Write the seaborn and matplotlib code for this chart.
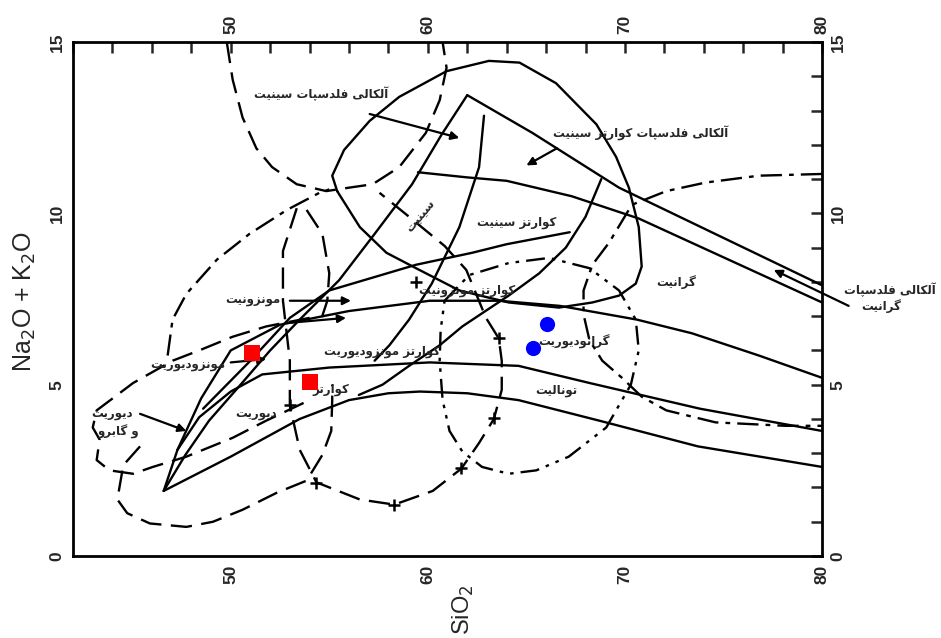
import matplotlib
matplotlib.use("Agg")
import matplotlib.pyplot as plt
import seaborn as sns
from matplotlib.ticker import MultipleLocator, FixedLocator

sns.set_style("white")
plt.rcParams['font.family'] = ['DejaVu Sans']

# Persian letters -> presentation forms (isolated, final, initial, medial)
FORMS = {
    'ا': ('\uFE8D', '\uFE8E'), 'آ': ('\uFE81', '\uFE82'),
    'د': ('\uFEA9', '\uFEAA'), 'ر': ('\uFEAD', '\uFEAE'),
    'ز': ('\uFEAF', '\uFEB0'), 'و': ('\uFEED', '\uFEEE'),
    'ب': ('\uFE8F', '\uFE90', '\uFE91', '\uFE92'),
    'پ': ('\uFB56', '\uFB57', '\uFB58', '\uFB59'),
    'ت': ('\uFE95', '\uFE96', '\uFE97', '\uFE98'),
    'س': ('\uFEB1', '\uFEB2', '\uFEB3', '\uFEB4'),
    'ف': ('\uFED1', '\uFED2', '\uFED3', '\uFED4'),
    '\u06A9': ('\uFB8E', '\uFB8F', '\uFB90', '\uFB91'),
    'گ': ('\uFB92', '\uFB93', '\uFB94', '\uFB95'),
    'ل': ('\uFEDD', '\uFEDE', '\uFEDF', '\uFEE0'),
    'م': ('\uFEE1', '\uFEE2', '\uFEE3', '\uFEE4'),
    'ن': ('\uFEE5', '\uFEE6', '\uFEE7', '\uFEE8'),
    '\u06CC': ('\uFBFC', '\uFBFD', '\uFBFE', '\uFBFF'),
}


def fa(text):
    # simple shaping + right-to-left ordering so matplotlib shows joined Persian
    chars = list(text.replace('\u064A', '\u06CC').replace('\u0643', '\u06A9'))
    out = []
    for i, c in enumerate(chars):
        if c not in FORMS:
            out.append(c)
            continue
        prev = chars[i - 1] if i > 0 else None
        nxt = chars[i + 1] if i + 1 < len(chars) else None
        join_prev = prev in FORMS and len(FORMS[prev]) == 4
        join_next = len(FORMS[c]) == 4 and nxt in FORMS
        f = FORMS[c]
        if join_prev and join_next:
            out.append(f[3])
        elif join_prev:
            out.append(f[1])
        elif join_next:
            out.append(f[2])
        else:
            out.append(f[0])
    return ''.join(reversed(out))


# ---- solid field boundaries (SiO2 wt%, Na2O+K2O wt%) ----
lower_x = [46.6, 50.0, 53.5, 56.0, 58.0, 59.6, 62.0, 64.6, 68.7, 73.7, 80.0]
lower_y = [1.9, 2.9, 4.0, 4.55, 4.75, 4.8, 4.75, 4.55, 3.95, 3.2, 2.6]

middle_x = [46.6, 47.3, 48.4, 50.0, 51.6, 55.0, 60.1, 64.6, 68.2, 73.8, 80.0]
middle_y = [1.9, 3.1, 4.05, 4.8, 5.3, 5.5, 5.65, 5.55, 5.05, 4.3, 3.65]

upper_x = [47.3, 48.5, 50.0, 52.5, 56.0, 60.1, 63.6, 66.7, 70.6, 73.4, 76.8, 80.0]
upper_y = [3.1, 4.6, 6.0, 6.75, 7.15, 7.45, 7.45, 7.3, 6.9, 6.5, 5.85, 5.2]

monz_x = [48.6, 51.0, 53.0, 55.0, 59.4, 62.25, 64.0, 67.2]
monz_y = [4.3, 5.7, 6.95, 7.75, 8.5, 8.85, 9.1, 9.45]

diag_x = [46.6, 47.7, 48.9, 50.5, 52.0, 53.5, 55.5, 57.3, 59.2, 60.7, 62.0]
diag_y = [1.9, 2.95, 3.95, 5.0, 6.0, 6.9, 8.05, 9.4, 10.85, 12.3, 13.45]

inner_x = [62.85, 62.6, 61.6, 60.2, 59.05, 58.05, 57.3]
inner_y = [12.85, 11.35, 9.6, 7.95, 6.9, 6.15, 5.7]

peak_x = [62.0, 65.3, 69.7, 80.0]
peak_y = [13.45, 12.35, 10.75, 7.9]

qsy_x = [59.5, 62.0, 64.0, 67.3, 70.7, 80.0]
qsy_y = [11.2, 11.05, 10.95, 10.5, 9.85, 7.4]

curve_x = [68.8, 68.0, 67.0, 65.65, 64.1, 61.75, 60.6, 59.05, 57.7, 56.5]
curve_y = [11.0, 9.9, 9.0, 8.25, 7.6, 6.7, 6.15, 5.55, 5.0, 4.7]

loop_x = [55.4, 55.15, 55.75, 57.05, 58.55, 60.95, 63.1, 64.65, 66.5, 68.55, 69.55, 70.2,
          70.7, 70.85, 70.55, 69.7, 68.35, 66.65, 64.1, 61.6, 59.4, 57.9, 56.55, 55.4]
loop_y = [10.65, 11.1, 11.85, 12.7, 13.4, 14.15, 14.45, 14.4, 13.8, 12.6, 11.65, 10.75,
          9.6, 8.45, 7.95, 7.6, 7.4, 7.25, 7.4, 7.75, 8.4, 8.85, 9.6, 10.65]

# ---- dashed / dash-dot fields ----
afs_x = [49.8, 50.1, 50.6, 51.3, 52.1, 53.35, 54.85, 56.0, 57.2, 58.55, 59.9, 60.6, 60.95, 60.75]
afs_y = [15.0, 13.9, 12.8, 11.9, 11.35, 10.85, 10.65, 10.75, 10.85, 11.35, 12.35, 13.3, 14.25, 15.0]

mzd_x = [46.8, 47.05, 47.75, 49.3, 50.95, 52.85, 54.5, 55.0]
mzd_y = [5.85, 6.9, 7.65, 8.65, 9.4, 10.1, 10.6, 10.7]

gab_x = [54.0, 51.8, 50.1, 48.4, 47.05, 45.05, 43.2, 43.0, 43.35, 43.2, 43.85, 45.05, 46.05,
         47.75, 50.1, 51.8, 54.0]
gab_y = [6.95, 6.7, 6.4, 6.0, 5.7, 5.05, 4.25, 3.75, 3.4, 2.8, 2.5, 2.4, 2.6, 2.9, 3.45, 3.95, 4.55]

dio_x = [45.4, 44.55, 44.25, 44.75, 45.9, 47.75, 49.1, 50.6, 52.35, 53.85, 54.65, 55.1, 55.15, 55.15]
dio_y = [3.2, 2.65, 1.65, 1.25, 0.95, 0.85, 1.0, 1.35, 1.85, 2.2, 2.95, 3.65, 4.55, 5.0]

cross_x = [53.35, 52.65, 52.65, 53.0, 53.0, 53.5, 54.35, 56.55, 58.3, 60.25, 61.7, 62.6, 63.35,
           63.75, 63.75, 63.6, 62.95, 61.95, 60.85, 59.05, 57.55]
cross_y = [10.15, 8.9, 7.45, 5.7, 4.4, 3.1, 2.15, 1.65, 1.5, 1.9, 2.55, 3.3, 4.0, 4.85, 5.7,
           6.35, 6.95, 8.35, 9.05, 9.9, 10.6]
plus_x = [52.99, 54.35, 58.3, 61.7, 63.37, 63.62, 59.42]
plus_y = [4.4, 2.13, 1.49, 2.57, 4.02, 6.36, 7.99]

arc_x = [53.85, 54.65, 55.0, 54.9, 54.5]
arc_y = [10.1, 9.4, 8.25, 7.45, 6.75]

gd_x = [60.85, 62.1, 64.1, 66.15, 68.2, 69.7, 70.55, 70.7, 70.3, 69.05, 67.15, 65.5, 64.1,
        62.75, 61.75, 61.1, 60.75, 60.6, 60.65, 60.85]
gd_y = [7.45, 8.2, 8.55, 8.7, 8.4, 7.75, 6.9, 6.0, 5.0, 3.75, 2.9, 2.5, 2.4, 2.6, 3.05, 3.65,
        4.55, 5.7, 6.6, 7.45]

gr_x = [80.0, 76.8, 74.1, 72.1, 70.35, 69.2, 68.35, 67.9, 67.9, 68.2, 68.85, 69.85, 70.85,
        72.1, 74.6, 78.15, 80.0]
gr_y = [11.15, 11.1, 10.9, 10.65, 10.25, 9.15, 8.5, 7.75, 7.05, 6.3, 5.7, 5.2, 4.65, 4.25,
        3.9, 3.8, 3.8]

# ---- arrows from labels ----
arrow_x0 = [57.05, 66.55, 53.0, 52.85, 50.0, 45.4, 81.35]
arrow_y0 = [12.9, 11.9, 7.45, 6.8, 5.65, 4.15, 7.3]
arrow_x1 = [61.6, 65.0, 56.1, 55.85, 51.8, 47.75, 77.55]
arrow_y1 = [12.2, 11.4, 7.45, 6.95, 5.75, 3.65, 8.35]

# ---- field names ----
label_text = ['آلکالی فلدسپات سینیت', 'آلکالی فلدسپات کوارتز سینیت', 'کوارتز سینیت', 'گرانیت',
              'آلکالی فلدسپات', 'گرانیت', 'مونزونیت', 'کوارتز مونزونیت', 'مونزودیوریت',
              'کوارتز مونزودیوریت', 'گرانودیوریت', 'تونالیت', 'کوارتز', 'دیوریت',
              'دیوریت', 'و گابرو', 'سینیت']
label_x = [54.6, 70.8, 64.5, 72.6, 83.45, 83.0, 51.1, 62.0, 47.8, 57.7, 67.4, 66.5, 55.1, 51.3,
           44.0, 44.3, 59.6]
label_y = [13.5, 12.33, 9.74, 8.0, 7.76, 7.29, 7.46, 7.76, 5.57, 5.98, 6.24, 4.84, 4.85, 4.17,
           4.17, 3.62, 9.94]
label_rot = [0, 0, 0, 0, 0, 0, 0, 0, 0, 0, 0, 0, 0, 0, 0, 0, 50]

# ---- samples ----
red_x = [51.1, 54.0]
red_y = [5.92, 5.08]
blue_x = [66.07, 65.34]
blue_y = [6.76, 6.08]

fig = plt.figure(figsize=(9.41, 6.38), dpi=100)
ax = fig.add_axes([0.0776, 0.1285, 0.796, 0.8056])

solid = '-'
dash = (0, (9, 4))
dashdot = (0, (9, 3, 2, 3))
dashdotdot = (0, (8, 3, 1.5, 3, 1.5, 3))

curves = [
    (lower_x, lower_y, solid), (middle_x, middle_y, solid), (upper_x, upper_y, solid),
    (monz_x, monz_y, solid), (diag_x, diag_y, solid), (inner_x, inner_y, solid),
    (peak_x, peak_y, solid), (qsy_x, qsy_y, solid), (curve_x, curve_y, solid),
    (loop_x, loop_y, solid),
    (afs_x, afs_y, dash), (mzd_x, mzd_y, dashdot), (gab_x, gab_y, dash),
    (dio_x, dio_y, dash), (cross_x, cross_y, dash), (arc_x, arc_y, dash),
    (gd_x, gd_y, dashdotdot), (gr_x, gr_y, dashdot),
]
for xs, ys, ls in curves:
    sns.lineplot(x=xs, y=ys, sort=False, estimator=None, color='black', linewidth=1.7,
                 linestyle=ls, legend=False, ax=ax)

sns.scatterplot(x=plus_x, y=plus_y, marker='+', s=80, color='black', linewidth=1.8,
                legend=False, ax=ax, zorder=3)

for x0, y0, x1, y1 in zip(arrow_x0, arrow_y0, arrow_x1, arrow_y1):
    ax.annotate('', xy=(x1, y1), xytext=(x0, y0), annotation_clip=False,
                arrowprops=dict(arrowstyle='-|>', color='black', lw=1.6, mutation_scale=12,
                                shrinkA=0, shrinkB=0))

for t, x, y, r in zip(label_text, label_x, label_y, label_rot):
    ax.text(x, y, fa(t), ha='center', va='center', fontsize=8.5, fontweight='bold',
            rotation=r, family='DejaVu Sans', clip_on=False, zorder=4)

sns.scatterplot(x=red_x, y=red_y, marker='s', s=120, color='#ff0000', linewidth=0,
                legend=False, ax=ax, zorder=5)
sns.scatterplot(x=blue_x, y=blue_y, marker='o', s=120, color='#0000ff', linewidth=0,
                legend=False, ax=ax, zorder=5)

ax.set_xlim(42, 80)
ax.set_ylim(0, 15)
ax.xaxis.set_major_locator(FixedLocator([50, 60, 70, 80]))
ax.xaxis.set_minor_locator(MultipleLocator(2))
ax.yaxis.set_major_locator(FixedLocator([0, 5, 10, 15]))
ax.yaxis.set_minor_locator(MultipleLocator(1))
ax.tick_params(which='both', direction='in', length=8, width=1.8, top=True, right=True,
               labeltop=True, labelright=True)
ax.tick_params(axis='x', labelrotation=90, pad=6)
ax.tick_params(axis='y', labelrotation=90, pad=6)
for lab in ax.get_xticklabels() + ax.get_yticklabels():
    lab.set_fontweight('bold')
    lab.set_fontsize(12.5)
    lab.set_family('Liberation Sans')
for lab in ax.get_yticklabels():
    lab.set_verticalalignment('center')
for side in ax.spines.values():
    side.set_linewidth(2.0)
    side.set_color('black')
ax.set_xlabel('')
ax.set_ylabel('')

fig.text(0.0266, 0.527, 'Na$_2$O + K$_2$O', rotation=90, ha='center', va='center',
         fontsize=18, family='Liberation Sans')
fig.text(0.492, 0.044, 'SiO$_2$', rotation=90, ha='center', va='center',
         fontsize=17, family='Liberation Sans')

fig.savefig('out.png', dpi=100, facecolor='white')
